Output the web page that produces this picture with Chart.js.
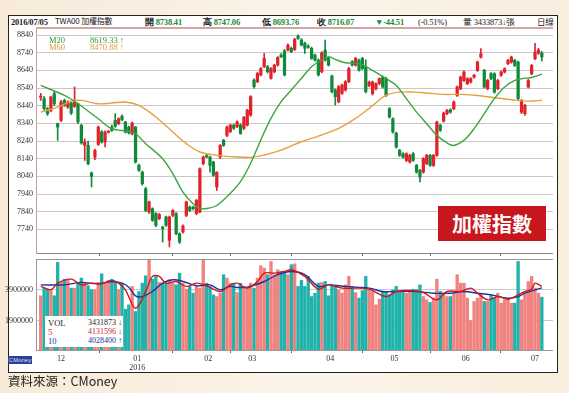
<!DOCTYPE html>
<html>
<head>
<meta charset="utf-8">
<script src="https://cdn.jsdelivr.net/npm/chart.js@4"></script>
<style>
  body { margin: 0; width: 569px; height: 393px; position: relative; overflow: hidden;
    background: linear-gradient(90deg, #f7ebd8, #fbf4e9 55%, #f8eedd); font-family: "Liberation Serif", serif; }
  .frame { position: absolute; left: 8px; top: 15px; width: 548px; height: 356px; background: #fff; border: 1.5px solid #222; }
  .t { position: absolute; white-space: nowrap; line-height: 1; }
  .hd { top: 18px; font-size: 8.5px; color: #222; font-weight: bold; letter-spacing: -0.2px; }
  .g { color: #1d8a32; }
  canvas { position: absolute; left: 0; }
</style>
</head>
<body>
<div class="frame"></div>
<div class="t hd" style="left:11px">2016/07/05</div>
<div class="t hd" style="left:55px;font-weight:normal;font-family:'Noto Sans CJK TC';font-size:8px;top:17px">TWA00 加權指數</div>
<div class="t hd" style="left:145px">開 <span class="g">8738.41</span></div>
<div class="t hd" style="left:203px">高 <span class="g">8747.06</span></div>
<div class="t hd" style="left:262px">低 <span class="g">8693.76</span></div>
<div class="t hd" style="left:317px">收 <span class="g">8716.07</span></div>
<div class="t hd g" style="left:375px">▼-44.51</div>
<div class="t hd" style="left:418px;font-weight:normal">(-0.51%)</div>
<div class="t hd" style="left:463px;font-weight:normal">量 3433873↓張</div>
<div class="t hd" style="left:537px;font-weight:normal;font-family:'Noto Sans CJK TC';font-size:8.5px;top:17px">日線</div>

<canvas id="priceChart" width="553" height="229" style="top:28px"></canvas>
<canvas id="volChart" width="553" height="113" style="top:259px"></canvas>

<div style="position:absolute;left:36px;top:27px;width:517px;height:0;border-top:2px solid #d3a6a6"></div>
<div style="position:absolute;left:36px;top:259px;width:517px;height:0;border-top:1px solid #999"></div>

<div class="t" style="left:49px;top:36px;font-size:8.5px;color:#2f9a35">M20</div>
<div class="t" style="left:90px;top:36px;font-size:8.5px;color:#2f9a35">8619.33 ↑</div>
<div class="t" style="left:49px;top:43px;font-size:8.5px;color:#e09a3a">M60</div>
<div class="t" style="left:90px;top:43px;font-size:8.5px;color:#e09a3a">8470.88 ↑</div>

<div style="position:absolute;left:45px;top:316px;width:78px;height:31px;background:#fff"></div>
<div class="t" style="left:48px;top:319px;font-size:8.5px;color:#222">VOL</div>
<div class="t" style="left:88px;top:319px;font-size:8px;color:#222">3431873 ↓</div>
<div class="t" style="left:48px;top:328px;font-size:8.5px;color:#c81e1e">5</div>
<div class="t" style="left:88px;top:328px;font-size:8px;color:#c81e1e">4131596 ↓</div>
<div class="t" style="left:48px;top:337px;font-size:8.5px;color:#2232a0">10</div>
<div class="t" style="left:88px;top:337px;font-size:8px;color:#2232a0">4028400 ↑</div>

<div style="position:absolute;left:438px;top:206px;width:108px;height:35px;background:#c8161d;color:#fff;
  font-family:'Noto Sans CJK TC';font-weight:bold;font-size:20px;line-height:35px;text-align:center">加權指數</div>

<div style="position:absolute;left:8px;top:356px;width:24px;height:8px;background:#2a3f9a;color:#dde;font-size:6px;line-height:8px;text-align:center;font-family:'Liberation Sans'">CMoney</div>
<div class="t" style="left:8px;top:375px;font-size:12.5px;color:#222;font-family:'Noto Sans CJK TC'">資料來源：CMoney</div>

<script>
// daily candles, 2015/11/23 .. 2016/07/05
const opens = [8488, 8480, 8423, 8414, 8508, 8338, 8357, 8470, 8432, 8455,
  8436, 8451, 8329, 8215, 8215, 8059, 8149, 8221, 8291, 8234,
  8290, 8319, 8357, 8338, 8380, 8348, 8319, 8281, 8319, 8102,
  8064, 7970, 7838, 7857, 7829, 7800, 7753, 7810, 7678, 7819,
  7829, 7715, 7725, 7819, 7866, 7866, 7829, 7838, 8112, 8158,
  8149, 8121, 7980, 8149, 8244, 8272, 8293, 8330, 8321, 8330,
  8312, 8330, 8387, 8585, 8576, 8614, 8661, 8661, 8595, 8632,
  8670, 8727, 8751, 8755, 8765, 8759, 8834, 8812, 8793, 8778,
  8765, 8727, 8698, 8632, 8755, 8708, 8608, 8529, 8463, 8510,
  8529, 8576, 8689, 8670, 8698, 8708, 8660, 8555, 8508, 8536,
  8565, 8602, 8593, 8423, 8366, 8285, 8187, 8168, 8130, 8121,
  8168, 8102, 8074, 8064, 8112, 8159, 8102, 8159, 8329, 8353,
  8395, 8417, 8423, 8498, 8536, 8583, 8565, 8574, 8602, 8640,
  8715, 8640, 8536, 8621, 8621, 8536, 8612, 8631, 8678, 8687,
  8697, 8687, 8404, 8395, 8546, 8621, 8706, 8738, 8738.41];
const highs = [8510, 8492, 8430, 8495, 8518, 8342, 8470, 8478, 8468, 8460,
  8546, 8455, 8335, 8253, 8240, 8065, 8195, 8325, 8300, 8298,
  8300, 8330, 8395, 8372, 8388, 8352, 8325, 8348, 8322, 8110,
  8070, 7978, 7900, 7862, 7835, 7830, 7758, 7815, 7815, 7852,
  7835, 7720, 7765, 7900, 7872, 7870, 7910, 8088, 8155, 8165,
  8155, 8126, 8066, 8220, 8250, 8325, 8335, 8336, 8355, 8338,
  8380, 8420, 8497, 8592, 8628, 8656, 8736, 8668, 8656, 8675,
  8718, 8735, 8758, 8790, 8772, 8822, 8842, 8820, 8800, 8785,
  8772, 8733, 8705, 8746, 8812, 8715, 8614, 8535, 8554, 8563,
  8582, 8657, 8696, 8714, 8704, 8714, 8700, 8580, 8580, 8570,
  8598, 8608, 8600, 8430, 8372, 8290, 8193, 8174, 8174, 8165,
  8174, 8108, 8080, 8146, 8165, 8165, 8165, 8353, 8335, 8404,
  8420, 8423, 8467, 8552, 8608, 8637, 8599, 8599, 8618, 8693,
  8763, 8646, 8589, 8627, 8627, 8589, 8637, 8655, 8703, 8721,
  8703, 8693, 8476, 8448, 8589, 8674, 8793, 8765, 8747.06];
const lows = [8470, 8415, 8385, 8405, 8440, 8244, 8350, 8436, 8425, 8390,
  8430, 8338, 8222, 8130, 8105, 7980, 8135, 8215, 8228, 8206,
  8285, 8295, 8318, 8332, 8355, 8285, 8280, 8275, 8115, 8068,
  7990, 7840, 7830, 7785, 7755, 7795, 7668, 7757, 7640, 7812,
  7710, 7660, 7718, 7812, 7840, 7850, 7822, 7835, 8105, 8145,
  8064, 8040, 7960, 8140, 8210, 8265, 8288, 8305, 8315, 8278,
  8305, 8325, 8380, 8540, 8570, 8608, 8655, 8625, 8590, 8626,
  8664, 8712, 8608, 8750, 8740, 8752, 8815, 8778, 8736, 8765,
  8702, 8692, 8608, 8626, 8692, 8664, 8512, 8444, 8456, 8504,
  8522, 8570, 8664, 8664, 8636, 8645, 8512, 8548, 8500, 8530,
  8558, 8540, 8492, 8370, 8285, 8200, 8153, 8143, 8124, 8115,
  8124, 8058, 8008, 8058, 8106, 8096, 8096, 8153, 8294, 8347,
  8389, 8398, 8417, 8492, 8530, 8577, 8559, 8568, 8596, 8634,
  8709, 8540, 8530, 8587, 8511, 8530, 8606, 8625, 8672, 8681,
  8662, 8474, 8395, 8385, 8540, 8615, 8700, 8730, 8693.76];
const closes = [8495, 8423, 8395, 8489, 8451, 8319, 8461, 8442, 8461, 8398,
  8461, 8348, 8229, 8235, 8112, 8040, 8187, 8319, 8234, 8291,
  8294, 8300, 8323, 8366, 8361, 8291, 8285, 8342, 8121, 8074,
  7998, 7847, 7895, 7791, 7763, 7825, 7744, 7763, 7810, 7847,
  7715, 7668, 7759, 7895, 7847, 7857, 7904, 8083, 8149, 8150,
  8102, 8046, 8064, 8215, 8215, 8319, 8330, 8312, 8349, 8283,
  8374, 8415, 8491, 8548, 8623, 8651, 8708, 8632, 8651, 8670,
  8714, 8717, 8614, 8783, 8746, 8815, 8821, 8783, 8765, 8770,
  8708, 8698, 8614, 8740, 8698, 8670, 8519, 8491, 8548, 8557,
  8576, 8651, 8670, 8708, 8642, 8651, 8520, 8574, 8574, 8565,
  8593, 8546, 8498, 8376, 8291, 8206, 8159, 8149, 8168, 8159,
  8130, 8064, 8036, 8140, 8159, 8102, 8159, 8347, 8300, 8398,
  8414, 8404, 8461, 8546, 8602, 8631, 8593, 8593, 8612, 8687,
  8734, 8546, 8583, 8593, 8517, 8583, 8631, 8649, 8697, 8715,
  8668, 8480, 8470, 8442, 8583, 8668, 8744, 8755, 8716.07];
// volume, millions of shares
const volumes = [3.52, 4.02, 3.95, 3.86, 3.52, 5.69, 4.39, 4.60, 4.52, 4.02,
  4.02, 4.39, 4.67, 4.34, 4.17, 3.91, 3.91, 4.39, 4.95, 4.34,
  4.52, 4.60, 4.45, 3.91, 4.34, 2.65, 2.93, 4.13, 2.50, 3.80,
  4.34, 4.82, 5.86, 4.60, 4.78, 4.39, 4.34, 4.34, 4.56, 4.34,
  4.23, 4.99, 4.34, 3.95, 4.13, 3.69, 4.13, 4.02, 5.86, 4.34,
  4.13, 3.58, 3.47, 3.69, 4.89, 4.67, 4.34, 4.34, 3.73, 4.34,
  4.13, 4.02, 4.34, 4.02, 4.67, 5.47, 5.32, 4.89, 5.75, 4.89,
  5.21, 5.10, 5.10, 4.89, 5.54, 5.60, 4.13, 4.52, 4.13, 4.78,
  3.47, 3.69, 4.34, 4.39, 4.45, 3.52, 4.23, 4.13, 3.91, 3.69,
  4.23, 4.78, 4.13, 3.73, 3.37, 3.86, 4.78, 3.91, 3.80, 2.93,
  3.30, 3.80, 3.80, 3.58, 3.91, 4.13, 3.80, 3.80, 3.69, 3.80,
  3.95, 3.91, 4.23, 3.47, 3.26, 3.09, 3.37, 4.60, 3.80, 3.69,
  3.47, 3.47, 3.69, 4.89, 4.34, 4.34, 3.37, 1.91, 3.15, 3.37,
  3.69, 3.15, 3.15, 3.58, 3.37, 3.69, 3.04, 3.26, 3.37, 3.04,
  3.04, 5.75, 3.26, 3.69, 4.45, 4.78, 4.02, 3.69, 3.43];

// moving averages: bar index / value
const ma20Idx = [0, 7, 11, 17, 21, 26, 28, 31, 36, 39, 42, 45, 47, 49, 52, 56, 59, 62, 65, 68, 71, 74, 77, 80, 83, 85, 87, 90, 93, 95, 98, 102, 105, 108, 111, 114, 117, 120, 122, 125, 128, 131, 134, 137, 140, 142, 145, 148];
const ma20Val = [8555, 8498, 8451, 8366, 8310, 8295, 8281, 8225, 8140, 8055, 7951, 7885, 7858, 7858, 7875, 7944, 8010, 8114, 8246, 8368, 8463, 8529, 8595, 8661, 8698, 8717, 8702, 8683, 8680, 8672, 8640, 8593, 8555, 8480, 8404, 8338, 8272, 8229, 8215, 8244, 8310, 8395, 8480, 8546, 8583, 8593, 8600, 8619];
const ma60Idx = [0, 5, 9, 12, 17, 21, 25, 29, 34, 39, 43, 47, 52, 57, 62, 66, 71, 77, 82, 88, 93, 97, 102, 106, 110, 114, 119, 124, 129, 134, 139, 144, 148];
const ma60Val = [8404, 8432, 8466, 8470, 8451, 8455, 8461, 8442, 8376, 8291, 8225, 8178, 8159, 8151, 8147, 8161, 8189, 8236, 8268, 8312, 8368, 8425, 8498, 8517, 8517, 8512, 8504, 8504, 8498, 8485, 8474, 8466, 8471];
const vma5Idx = [0, 3, 5, 9, 12, 15, 18, 21, 23, 25, 28, 31, 33, 35, 37, 40, 43, 46, 49, 53, 56, 58, 61, 64, 66, 69, 72, 74, 78, 82, 85, 89, 93, 97, 102, 105, 109, 113, 117, 120, 124, 127, 129, 132, 135, 138, 141, 143, 145, 146, 148];
const vma5Val = [4.13, 3.91, 4.34, 4.60, 4.23, 4.34, 4.30, 4.52, 4.34, 3.91, 2.71, 3.80, 4.78, 4.78, 4.34, 4.45, 4.13, 4.34, 4.17, 3.80, 4.23, 4.34, 4.02, 4.45, 4.99, 4.99, 5.10, 5.21, 4.78, 3.95, 4.23, 4.02, 4.02, 3.95, 3.47, 3.80, 3.86, 3.73, 3.26, 3.80, 3.80, 4.02, 3.69, 3.26, 3.47, 3.30, 3.58, 3.80, 3.95, 4.34, 4.13];
const vma10Idx = [0, 7, 12, 17, 21, 24, 26, 28, 30, 33, 36, 39, 42, 46, 50, 53, 56, 58, 61, 66, 70, 74, 78, 82, 85, 90, 93, 97, 101, 105, 111, 116, 121, 125, 129, 133, 138, 141, 143, 146, 148];
const vma10Val = [4.23, 4.23, 4.39, 4.30, 4.45, 4.34, 4.08, 3.52, 3.47, 3.80, 4.34, 4.56, 4.45, 4.17, 4.23, 3.91, 4.13, 4.06, 4.08, 4.45, 4.89, 5.10, 4.89, 4.13, 4.23, 4.13, 4.08, 4.02, 3.80, 3.80, 3.80, 3.69, 3.69, 3.80, 3.69, 3.58, 3.37, 3.47, 3.69, 3.91, 4.03];

const priceTicks = [7740, 7840, 7940, 8040, 8140, 8240, 8340, 8440, 8540, 8640, 8740, 8840];
const volTicks = [1900000, 3900000];
const monthStart = [6, 28.5, 49.5, 62.5, 85.5, 104.5, 125.5, 146];
const monthLabels = ["12", ["01", "2016"], "02", "03", "04", "05", "06", "07"];

const UP = "#e0222b";
const DOWN = "#11893a";
const tickFont = { family: "Liberation Serif", size: 8 };

const candleColors = closes.map((c, i) => (c >= opens[i] ? UP : DOWN));
const volColors = closes.map((c, i) => (c >= opens[i] ? "#f0837f" : "#22b2aa"));
const pairs = (idx, val, k) => idx.map((x, i) => ({ x: x, y: val[i] * k }));

// no automatic padding: the plot box is fixed by hand
const noPad = (s) => { s.paddingTop = 0; s.paddingBottom = 0; s.paddingLeft = 0; s.paddingRight = 0; };
const xRange = { type: "linear", min: -1.4, max: 151.3, offset: false };

new Chart(document.getElementById("priceChart"), {
  type: "bar",
  data: {
    datasets: [
      {
        type: "line", data: pairs(ma20Idx, ma20Val, 1), borderColor: "#3ba63c",
        borderWidth: 1.4, pointRadius: 0, tension: 0.35, order: 1,
      },
      {
        type: "line", data: pairs(ma60Idx, ma60Val, 1), borderColor: "#e6a03e",
        borderWidth: 1.4, pointRadius: 0, tension: 0.35, order: 1,
      },
      {
        data: closes.map((c, i) => ({ x: i, y: [lows[i], highs[i]] })),
        backgroundColor: candleColors, barThickness: 1, grouped: false, order: 3,
      },
      {
        data: closes.map((c, i) => ({ x: i, y: [opens[i], c] })),
        backgroundColor: candleColors, barThickness: 2.6, minBarLength: 1, grouped: false, order: 2,
      },
    ],
  },
  options: {
    responsive: false,
    animation: false,
    layout: { padding: 0 },
    plugins: { legend: { display: false }, tooltip: { enabled: false } },
    scales: {
      x: {
        ...xRange,
        afterBuildTicks: (s) => { s.ticks = monthStart.map((v) => ({ value: v })); },
        afterFit: (s) => { s.height = 4; noPad(s); },
        ticks: { callback: () => "", autoSkip: false },
        grid: { drawOnChartArea: false, tickLength: 3, color: "#666" },
        border: { color: "#888" },
      },
      y: {
        min: 7606,
        max: 8880,
        afterBuildTicks: (s) => { s.ticks = priceTicks.map((v) => ({ value: v })); },
        afterFit: (s) => { s.width = 36; noPad(s); },
        ticks: { font: tickFont, color: "#333", padding: 3, callback: (v) => String(v) },
        grid: { color: "#c8c8c8", borderDash: [1, 2], drawTicks: false },
        border: { color: "#c99a9a" },
      },
    },
  },
});

new Chart(document.getElementById("volChart"), {
  type: "bar",
  data: {
    datasets: [
      {
        type: "line", data: pairs(vma5Idx, vma5Val, 1e6), borderColor: "#d41616",
        borderWidth: 1.4, pointRadius: 0, tension: 0.35, order: 1,
      },
      {
        type: "line", data: pairs(vma10Idx, vma10Val, 1e6), borderColor: "#1f2fa6",
        borderWidth: 1.4, pointRadius: 0, tension: 0.35, order: 1,
      },
      {
        data: volumes.map((v, i) => ({ x: i, y: v * 1e6 })),
        backgroundColor: volColors, barThickness: 2.7, grouped: false, order: 2,
      },
    ],
  },
  options: {
    responsive: false,
    animation: false,
    layout: { padding: 0 },
    plugins: { legend: { display: false }, tooltip: { enabled: false } },
    scales: {
      x: {
        ...xRange,
        afterBuildTicks: (s) => { s.ticks = monthStart.map((v) => ({ value: v })); },
        afterFit: (s) => { s.height = 22; noPad(s); },
        ticks: {
          callback: (v, i) => monthLabels[i], autoSkip: false, maxRotation: 0,
          font: tickFont, color: "#333", padding: 1,
        },
        grid: { drawOnChartArea: false, tickLength: 3, color: "#666" },
        border: { color: "#999", dash: [1, 1] },
      },
      y: {
        min: 0,
        max: 5910000,
        afterBuildTicks: (s) => { s.ticks = volTicks.map((v) => ({ value: v })); },
        afterFit: (s) => { s.width = 36; noPad(s); },
        ticks: { font: tickFont, color: "#333", padding: 3, callback: (v) => String(v) },
        grid: { color: "#c8c8c8", borderDash: [1, 2], drawTicks: false },
        border: { color: "#999" },
      },
    },
  },
});
</script>
</body>
</html>
